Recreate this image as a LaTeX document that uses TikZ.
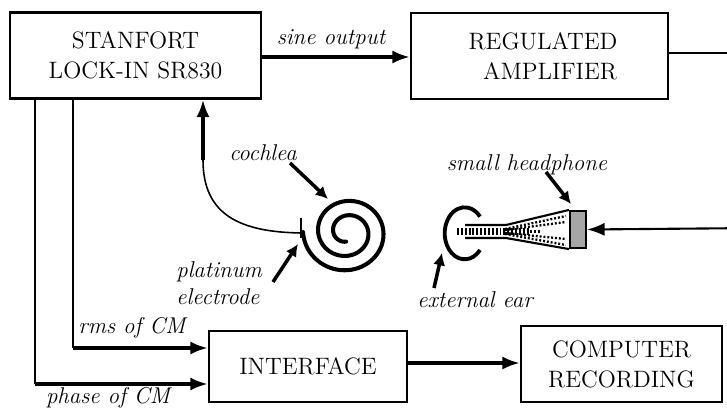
\documentclass[tikz,border=0pt]{standalone}
\usetikzlibrary{arrows.meta}
\tikzset{
	block/.style={draw,line width=1.2pt,align=center,inner sep=0pt,font=\fontsize{13.5}{17}\selectfont},
	tag/.style={inner sep=0pt,font=\fontsize{13}{15.5}\selectfont\itshape},
	flow/.style={line width=2.2pt,-{Latex[length=10pt,width=7.5pt]}},
	pointer/.style={line width=2pt,-{Latex[length=7pt,width=7pt]}},
	dots/.style={line width=1.3pt,dash pattern=on 1.1pt off 1.1pt}
}
\begin{document}
	\begin{tikzpicture}[x=0.02cm,y=-0.02cm]
		\useasboundingbox (0,0) rectangle (727,409);
		\node[block,minimum width=5.02cm,minimum height=1.72cm] (lockin) at (135.5,55.5) {STANFORT\\LOCK-IN SR830};
		\node[block,minimum width=5.14cm,minimum height=1.72cm] (amp) at (539.5,56) {\hspace*{4pt}REGULATED\\\hspace*{12pt}AMPLIFIER};
		\node[block,minimum width=3.96cm,minimum height=1.42cm] (iface) at (308,366.5) {INTERFACE};
		\node[block,minimum width=4.02cm,minimum height=1.52cm] (comp) at (621.5,364) {COMPUTER\\RECORDING};
		\node[draw,line width=1.2pt,fill=black!35,minimum width=0.32cm,minimum height=0.74cm,inner sep=0pt] (phone) at (578,229.5) {};
		\coordinate (rms) at (73,348);
		\coordinate (phase) at (35,384);
		\coordinate (feed) at (760,53);
		\coordinate (feedlow) at (760,228);
		\coordinate (wire) at (203,160);
		\coordinate (tip) at (301,233);
		\draw[flow] (lockin.east |- 0,57) -- (amp.west |- 0,57);
		\draw[line width=1.2pt] (amp.east |- 0,53) -- (feed) -- (feedlow);
		\draw[line width=1.2pt,-{Latex[length=10pt,width=7.5pt]}] (feedlow) -- (phone.east);
		\draw[line width=1.2pt] (lockin.south -| rms) -- (rms);
		\draw[line width=1.2pt] (lockin.south -| phase) -- (phase);
		\draw[flow] (rms) -- (rms -| iface.west);
		\draw[flow] (phase) -- (phase -| iface.west);
		\draw[flow] (iface.east |- 0,363) -- (comp.west |- 0,363);
		\draw[flow] (wire) -- (lockin.south -| wire);
		\draw[line width=0.9pt] (wire) .. controls (203,215) and (240,232) .. (tip);
		\draw[line width=1.6pt] (301,218) -- (301,238);
		\draw[line width=2.3pt,line cap=round] plot[domain=180:985,samples=160,smooth]
			({347+(44-0.042*(\x-180))*cos(\x)},{232-0.95*(44-0.042*(\x-180))*sin(\x)});
		\draw[line width=2.2pt] (480,250) arc[start angle=40,end angle=320,x radius=20,y radius=26];
		\draw[line width=1.2pt] (465,225) -- (506,225) -- (phone.north west);
		\draw[line width=1.2pt] (465,238) -- (506,238) -- (phone.south west);
		\draw[dots] (457,229) -- (530,229);
		\draw[dots] (457,231.5) -- (540,231.5);
		\draw[dots] (457,234) -- (530,234);
		\draw[dots] (505,229) -- (566,216);
		\draw[dots] (505,230) -- (566,222);
		\draw[dots] (505,233) -- (566,239);
		\draw[dots] (505,234) -- (566,245);
		\node[tag] (sine) at (331,39) {sine output};
		\node[tag] (cochlea) at (263,153) {cochlea};
		\node[tag,anchor=west,align=left] (electrode) at (176,283) {platinum\\electrode};
		\node[tag] (headphone) at (527,165) {small headphone};
		\node[tag] (ear) at (475,300) {external ear};
		\node[tag,anchor=west] (rmslabel) at (78,328) {rms of CM};
		\node[tag] (phaselabel) at (108,398) {phase of CM};
		\draw[pointer] (290,163) -- (328,199);
		\draw[pointer] (273,282) -- (298,244);
		\draw[pointer] (546,172) -- (571,204);
		\draw[pointer] (434,288) -- (442,253);
	\end{tikzpicture}
\end{document}
